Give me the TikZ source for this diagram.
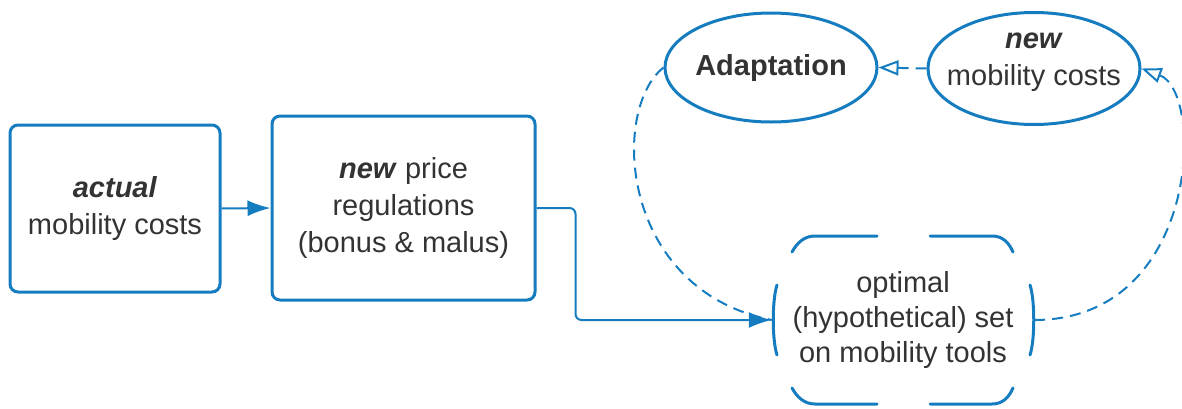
\documentclass[tikz,border=0pt]{standalone}
\usepackage{fontspec}
\setmainfont{Liberation Sans}
\usetikzlibrary{arrows.meta,shapes.geometric}
\definecolor{dblue}{RGB}{22,124,192}
\definecolor{txt}{RGB}{51,51,51}
\tikzset{
  boxnode/.style={draw=dblue, line width=3pt, rounded corners=8pt, fill=white, align=center, inner sep=0pt, text=txt},
  ellnode/.style={draw=dblue, line width=3pt, ellipse, inner sep=0pt, fill=white},
  lbl/.style={align=center, inner sep=0pt, text=txt},
  solidarrow/.style={draw=dblue, line width=2pt, -{Latex[length=23pt,width=16pt]}},
  dasharrow/.style={draw=dblue, line width=2pt, dash pattern=on 11pt off 7pt, -{Triangle[open,length=20pt,width=15pt,line width=2pt]}},
  dashline/.style={draw=dblue, line width=2pt, dash pattern=on 11pt off 7pt},
  piece/.style={draw=dblue, line width=3pt, line cap=round},
}
\begin{document}
\begin{tikzpicture}[x=1pt,y=-1pt, font=\fontsize{29pt}{37pt}\selectfont]
\useasboundingbox (0,0) rectangle (1182,408);
% nodes
\node[boxnode, minimum width=210pt, minimum height=167pt] (b1) at (115,208.5)
  {\textbf{\textit{actual}}\\mobility costs};
\node[boxnode, minimum width=263pt, minimum height=184pt] (b2) at (403.5,208)
  {\textbf{\textit{new}} price\\regulations\\(bonus \& malus)};
\node[ellnode, minimum width=212pt, minimum height=109pt] (adapt) at (771,67.5) {};
\node[lbl] (adaptt) at (adapt) {\textbf{Adaptation}};
\node[ellnode, minimum width=212pt, minimum height=112pt] (newc) at (1034,68.5) {};
\node[lbl] (newct) at (1034,62) {\textbf{\textit{new}}\\mobility costs};
\node[lbl, minimum width=262pt, minimum height=168pt, font=\fontsize{29pt}{35pt}\selectfont] (opt) at (903,320)
  {optimal\\(hypothetical) set\\on mobility tools};
% dashed box pieces
\draw[piece] (792,252) .. controls (797,243) and (804,236) .. (815,236) -- (877,236);
\draw[piece] (930,236) -- (992,236) .. controls (1003,236) and (1009,243) .. (1013,252);
\draw[piece] (792,388) .. controls (797,397) and (804,404) .. (815,404) -- (877,404);
\draw[piece] (930,404) -- (992,404) .. controls (1003,404) and (1009,397) .. (1013,388);
\draw[piece] (777,285) .. controls (772,300) and (772,340) .. (777,355);
\draw[piece] (1030,285) .. controls (1035,300) and (1035,340) .. (1030,355);
% connectors
\draw[dashline] (adapt.west) .. controls (610,110) and (620,290) .. (opt.west);
\draw[solidarrow] (b1.east) -- (b2.west);
\draw[solidarrow, rounded corners=6pt] (b2.east) -- ++(39,0) |- (opt.west);
\draw[dasharrow] (newc.west) -- (adapt.east);
\draw[dasharrow] (opt.east) .. controls (1200,320) and (1205,92) .. (newc.east);
\end{tikzpicture}
\end{document}
